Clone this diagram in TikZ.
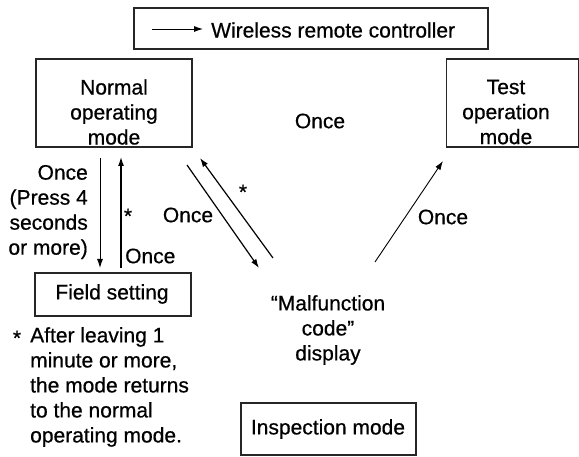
\documentclass[tikz,border=0pt]{standalone}
\usepackage{fontspec}
\setmainfont{Liberation Sans}[RawFeature={embolden=0.6}]
\usetikzlibrary{arrows.meta}
\begin{document}
\begin{tikzpicture}[x=1pt,y=-1pt,
  box/.style={draw=black!85, line width=1.2pt, inner sep=0pt},
  txt/.style={inner sep=0pt, font=\fontsize{21}{25}\selectfont, align=center},
  arr/.style={line width=1.2pt, -{Latex[length=9pt,width=6pt]}},
  thinarr/.style={line width=0.9pt, -{Latex[length=9pt,width=6pt]}}]
\useasboundingbox (0,0) rectangle (579,457);
% boxes
\node[box, minimum width=354pt, minimum height=41pt] (wrc) at (311,28.5) {};
\node[box, minimum width=156pt, minimum height=88pt] (normal) at (114,103) {};
\node[box, minimum width=132pt, minimum height=88pt] (test) at (512.5,103) {};
\node[box, minimum width=156pt, minimum height=43pt] (field) at (113,294.5) {};
\node[box, minimum width=175pt, minimum height=52pt] (insp) at (328.5,429) {};
% texts
\node[txt, anchor=west] (wrctxt) at (211,30) {Wireless remote controller};
\node[txt] (normaltxt) at (114,112) {Normal\\operating\\mode};
\node[txt] (testtxt) at (506,112) {Test\\operation\\mode};
\node[txt] (fieldtxt) at (112,294) {Field setting};
\node[txt] (insptxt) at (328,429) {Inspection mode};
\node[txt] (malf) at (328,330) {“Malfunction\\code”\\display};
\node[txt] (oncetop) at (320,121) {Once};
\node[txt, align=right, anchor=east] (presstxt) at (88,212) {Once\\(Press 4\\seconds\\or more)};
\node[txt] (star1) at (128,216) {*};
\node[txt, anchor=west] (once2) at (125,256) {Once};
\node[txt] (once3) at (188,215) {Once};
\node[txt] (star2) at (243,192) {*};
\node[txt] (once4) at (443,217) {Once};
\node[txt] (star3) at (17,338) {*};
\node[txt, align=left, anchor=west] (note) at (30,387) {After leaving 1\\minute or more,\\the mode returns\\to the normal\\operating mode.};
% connector end points
\coordinate (l1) at (152,29);
\coordinate (l2) at (203,29);
\coordinate (a1) at (100,158);
\coordinate (a2) at (100,268);
\coordinate (b1) at (121,268);
\coordinate (b2) at (121,157);
\coordinate (c1) at (187,165);
\coordinate (c2) at (259,268);
\coordinate (d1) at (273,258);
\coordinate (d2) at (200,158);
\coordinate (e1) at (375,262);
\coordinate (e2) at (443,161);
% connectors
\draw[thinarr] (l1) -- (l2);
\draw[thinarr] (a1) -- (a2);
\draw[arr] (b1) -- (b2);
\draw[arr] (c1) -- (c2);
\draw[arr] (d1) -- (d2);
\draw[thinarr] (e1) -- (e2);
\end{tikzpicture}
\end{document}
